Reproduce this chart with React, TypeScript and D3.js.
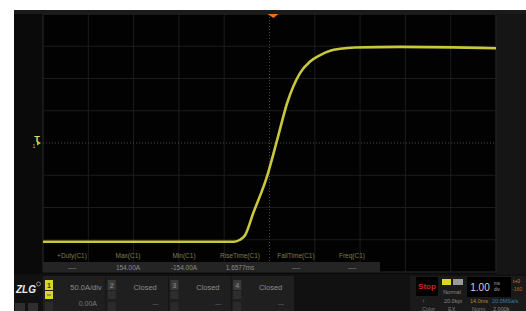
import React from 'react'
import * as d3 from 'd3'

// trace: 1.00 ms/div, 50.0 A/div, centre = 0
const timeMs = [-5, -0.78, -0.65, -0.54, -0.36, -0.06, 0.17, 0.39, 0.67, 0.89, 1.11, 1.34, 1.56, 1.89, 2.88, 5]
const currentA = [-153, -153, -150, -143, -109, -53, 5, 62, 108, 126, 136, 143, 146, 148, 149, 147]

const measureNames = ['+Duty(C1)', 'Max(C1)', 'Min(C1)', 'RiseTime(C1)', 'FallTime(C1)', 'Freq(C1)']
const measureValues = ['----', '154.00A', '-154.00A', '1.6577ms', '----', '----']

const channelIds = ['1', '2', '3', '4']
const channelTop = ['50.0A/div', 'Closed', 'Closed', 'Closed']
const channelBottom = ['0.00A', '—', '—', '—']

const width = 526
const height = 311
const plot = { left: 43, right: 496, top: 14, bottom: 272 }
const trace = '#c9c73c'
const font = 'Liberation Sans, Arial, sans-serif'

export default function App() {
    const x = d3.scaleLinear().domain([-5, 5]).range([plot.left, plot.right])
    const y = d3.scaleLinear().domain([-200, 200]).range([plot.bottom, plot.top])

    const line = d3
        .line<number>()
        .x((_, i) => x(timeMs[i]))
        .y(d => y(d))
        .curve(d3.curveMonotoneX)

    const xTicks = d3.range(-5, 5.01, 1)
    const yTicks = d3.range(-200, 201, 50)

    const mBand = d3.scaleBand().domain(measureNames).range([44, 380])
    const chBand = d3.scaleBand().domain(channelIds).range([43, 294])

    return (
        <svg width={width} height={height} style={{ position: 'absolute', left: 0, top: 0, display: 'block' }} fontFamily={font}>
            <rect width={width} height={height} fill="#fff" />
            {/* screen */}
            <rect x={14} y={10} width={width - 14} height={height - 10} fill="#0a0a0a" />
            <rect x={14} y={10} width={width - 14} height={4} fill="#1b1b1b" />
            <rect x={plot.right} y={14} width={width - plot.right} height={260} fill="#151515" />
            <rect x={plot.left} y={plot.top} width={plot.right - plot.left} height={plot.bottom - plot.top} fill="#020202" stroke="#232323" />

            {/* grid */}
            <g>
                {xTicks.map(t => (
                    <line key={'gx' + t} x1={x(t)} x2={x(t)} y1={plot.top} y2={plot.bottom}
                        stroke={t === 0 ? '#4a4a4a' : '#1c1c1c'} strokeDasharray={t === 0 ? '1,2' : undefined} />
                ))}
                {yTicks.map(v => (
                    <line key={'gy' + v} x1={plot.left} x2={plot.right} y1={y(v)} y2={y(v)}
                        stroke={v === 0 ? '#4a4a4a' : '#1c1c1c'} strokeDasharray={v === 0 ? '1,2' : undefined} />
                ))}
            </g>

            {/* trigger markers */}
            <path d={`M${x(0) - 2},${plot.top} L${x(0) + 9},${plot.top} L${x(0) + 4},${plot.top + 4} Z`} fill="#e8701e" />
            <text x={37} y={y(0) - 1} fontSize={9} fontWeight="bold" fill="#e2e05a" textAnchor="middle">T</text>
            <text x={34} y={y(0) + 5} fontSize={5} fill={trace} textAnchor="middle">1</text>
            <path d={`M37,${y(0) - 2.5} L41,${y(0)} L37,${y(0) + 2.5} Z`} fill={trace} />

            {/* waveform */}
            <path d={line(currentA) ?? ''} fill="none" stroke={trace} strokeWidth={2.6} strokeLinejoin="round" />

            {/* measurements */}
            <rect x={plot.left} y={262} width={380 - plot.left} height={10} fill="#242424" />
            {measureNames.map((m, i) => (
                <g key={m}>
                    <text x={mBand(m)! + mBand.bandwidth() / 2} y={258} fontSize={6.5} fill="#7f7d4c" textAnchor="middle">{m}</text>
                    <text x={mBand(m)! + mBand.bandwidth() / 2} y={270} fontSize={6.5} fill="#8a8a8a" textAnchor="middle">{measureValues[i]}</text>
                </g>
            ))}

            {/* bottom bar */}
            <rect x={14} y={274} width={width - 14} height={37} fill="#111" />
            <rect x={plot.left} y={276} width={251} height={35} fill="#1f1f1f" />
            <text x={26} y={293} fontSize={10} fontWeight="bold" fontStyle="italic" fill="#e8e8e8" textAnchor="middle">ZLG</text>
            <circle cx={38.5} cy={284} r={2} fill="none" stroke="#aaa" strokeWidth={0.7} />
            <rect x={15} y={303} width={10} height={8} fill="#2e2e2e" />
            <rect x={28} y={303} width={10} height={8} fill="#2e2e2e" />
            {channelIds.map((c, i) => {
                const x0 = chBand(c)!
                const bw = chBand.bandwidth()
                const on = i === 0
                return (
                    <g key={c}>
                        {i > 0 && <line x1={x0} x2={x0} y1={276} y2={311} stroke="#141414" />}
                        <rect x={x0 + 2} y={280} width={8} height={10} fill={on ? '#d8d62c' : '#3a3a3a'} />
                        <text x={x0 + 6} y={288} fontSize={7} fontWeight="bold" fill={on ? '#3a3a00' : '#777'} textAnchor="middle">{c}</text>
                        <rect x={x0 + 2} y={291} width={8} height={8} fill={on ? '#d8d62c' : '#2e2e2e'} />
                        {on && <line x1={x0 + 4} x2={x0 + 8} y1={295} y2={295} stroke="#555" />}
                        <rect x={x0 + 2} y={302} width={8} height={9} fill="#2a2a2a" />
                        <text x={on ? x0 + 43 : x0 + bw / 2 + 8} y={290} fontSize={7.5} fill="#8c8c8c" textAnchor="middle">{channelTop[i]}</text>
                        <text x={on ? x0 + 54 : x0 + bw - 10} y={306} fontSize={on ? 7 : 6} fill="#7a7a7a" textAnchor="end">{channelBottom[i]}</text>
                    </g>
                )
            })}

            {/* run state / timebase */}
            <rect x={410} y={276} width={116} height={35} fill="#1a1a1a" />
            <rect x={416} y={277} width={22} height={19} fill="#000" />
            <text x={427} y={289} fontSize={8} fontWeight="bold" fill="#d42020" textAnchor="middle">Stop</text>
            <rect x={442} y={279} width={9} height={6} fill="#d8d62c" />
            <rect x={453} y={279} width={10} height={6} fill="#9a9a9a" />
            <text x={452} y={294} fontSize={5.5} fill="#888" textAnchor="middle">Normal</text>
            <rect x={467} y={277} width={44} height={20} fill="#000" />
            <text x={480} y={291} fontSize={10} fill="#d0d0d0" textAnchor="middle">1.00</text>
            <text x={497} y={285} fontSize={4.5} fill="#aaa" textAnchor="middle">ms</text>
            <text x={497} y={291} fontSize={4.5} fill="#aaa" textAnchor="middle">div</text>
            <text x={513} y={283} fontSize={5} fill="#c08a30">t+0</text>
            <text x={512} y={291} fontSize={5} fill="#c05a30">-160</text>
            <text x={422} y={303} fontSize={6} fill="#888">↑</text>
            <text x={462} y={303} fontSize={5.5} fill="#888" textAnchor="end">20.0kpt</text>
            <text x={470} y={303} fontSize={5.5} fill="#b08a2a">14.0ms</text>
            <text x={492} y={303} fontSize={5.5} fill="#3a7ab0">20.0MSa/s</text>
            <text x={422} y={311} fontSize={5.5} fill="#777">Color</text>
            <text x={448} y={311} fontSize={5.5} fill="#777">EX</text>
            <text x={472} y={311} fontSize={5.5} fill="#777">Norm</text>
            <text x={493} y={311} fontSize={5.5} fill="#888">2.000k</text>
        </svg>
    )
}
